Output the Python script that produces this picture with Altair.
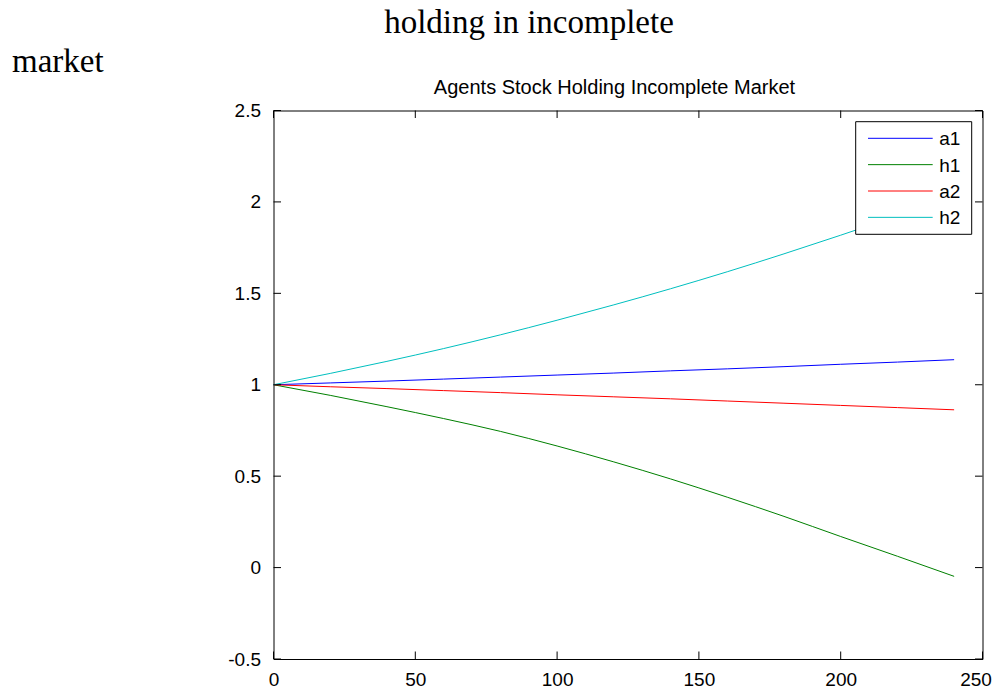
import altair as alt
import pandas as pd

# ---- data ----
x_vals = [0, 20, 40, 60, 80, 100, 120, 140, 160, 180, 200, 220, 240]
a1 = [1.000, 1.010, 1.020, 1.031, 1.042, 1.053, 1.064, 1.076, 1.087, 1.099, 1.112, 1.124, 1.137]
h1 = [1.000, 0.942, 0.880, 0.815, 0.745, 0.665, 0.578, 0.485, 0.385, 0.280, 0.170, 0.062, -0.048]
a2 = [1.000, 0.989, 0.979, 0.968, 0.957, 0.945, 0.934, 0.923, 0.911, 0.899, 0.887, 0.875, 0.863]
h2 = [1.000, 1.062, 1.128, 1.198, 1.273, 1.353, 1.437, 1.525, 1.618, 1.716, 1.818, 1.924, 2.035]

series_names = ["a1", "h1", "a2", "h2"]
series_colors = ["#0000FF", "#008000", "#FF0000", "#00BFBF"]

x_ticks = [0, 50, 100, 150, 200, 250]
y_ticks = [-0.5, 0, 0.5, 1, 1.5, 2, 2.5]

main_title = "Agents Stock Holding Incomplete Market"
caption_line1 = "holding in incomplete"
caption_line2 = "market"

# ---- build tables ----
rows = []
for name, vals in zip(series_names, [a1, h1, a2, h2]):
    for xv, yv in zip(x_vals, vals):
        rows.append({"x": xv, "value": yv, "series": name})
df = pd.DataFrame(rows)

W = 709
H = 548.5
TICK = 7.5
SANS = "Liberation Sans"

xscale = alt.Scale(domain=[0, 250], nice=False, zero=False)
yscale = alt.Scale(domain=[-0.5, 2.5], nice=False, zero=False)

x_axis = alt.Axis(values=x_ticks, ticks=False, tickSize=0, domain=False, grid=False,
                  labelPadding=11, labelFlush=False, labelOverlap=False,
                  labelOffset={"condition": {"test": "datum.value == 250", "value": -7}, "value": 0},
                  labelFont=SANS, labelFontSize=19, labelColor="black", title=None,
                  labelExpr="toString(datum.value)")
y_axis = alt.Axis(values=y_ticks, ticks=False, tickSize=0, domain=False, grid=False,
                  labelPadding=13, labelFlush=False, labelOverlap=False,
                  labelFont=SANS, labelFontSize=19, labelColor="black", title=None,
                  labelExpr="toString(datum.value)")

lines = alt.Chart(df).mark_line(strokeWidth=1, interpolate="monotone").encode(
    x=alt.X("x:Q", scale=xscale, axis=x_axis),
    y=alt.Y("value:Q", scale=yscale, axis=y_axis),
    color=alt.Color("series:N",
                    scale=alt.Scale(domain=series_names, range=series_colors),
                    legend=None),
)

xt = pd.DataFrame({"v": x_ticks})
yt = pd.DataFrame({"v": y_ticks})

tick_bottom = alt.Chart(xt).mark_rule(color="black", strokeWidth=1).encode(
    x=alt.X("v:Q", scale=xscale, axis=x_axis), y=alt.value(H), y2=alt.value(H - TICK))
tick_top = alt.Chart(xt).mark_rule(color="black", strokeWidth=1).encode(
    x=alt.X("v:Q", scale=xscale, axis=x_axis), y=alt.value(0), y2=alt.value(TICK))
tick_left = alt.Chart(yt).mark_rule(color="black", strokeWidth=1).encode(
    y=alt.Y("v:Q", scale=yscale, axis=y_axis), x=alt.value(0), x2=alt.value(TICK))
tick_right = alt.Chart(yt).mark_rule(color="black", strokeWidth=1).encode(
    y=alt.Y("v:Q", scale=yscale, axis=y_axis), x=alt.value(W), x2=alt.value(W - TICK))

# ---- texts (captions and plot title) ----
def text_layer(txt, font, size, align, xpx, ypx):
    return alt.Chart(pd.DataFrame({"t": [txt]})).mark_text(
        font=font, fontSize=size, align=align, baseline="alphabetic", color="black"
    ).encode(text="t:N", x=alt.value(xpx), y=alt.value(ypx))

cap1 = text_layer(caption_line1, "Liberation Serif", 33, "center", 255.5, -77.5)
cap2 = text_layer(caption_line2, "Liberation Serif", 33, "left", -261.5, -38.8)
ttl = text_layer(main_title, SANS, 20, "center", 341, -16.5)

# ---- legend box (MATLAB style, upper right inside axes) ----
LX0, LX1, LY0, LY1 = 582.2, 698.2, 11.2, 123.8
leg_box = alt.Chart(pd.DataFrame({"k": [0]})).mark_rect(
    fill="white", stroke="black", strokeWidth=1
).encode(x=alt.value(LX0), x2=alt.value(LX1), y=alt.value(LY0), y2=alt.value(LY1))

leg_layers = [leg_box]
for i, (name, col) in enumerate(zip(series_names, series_colors)):
    yy = 27.8 + i * 26.35
    rd = pd.DataFrame({"series": [name]})
    leg_layers.append(
        alt.Chart(rd).mark_rule(color=col, strokeWidth=1).encode(
            x=alt.value(594.5), x2=alt.value(659.2), y=alt.value(yy))
    )
    leg_layers.append(
        alt.Chart(rd).mark_text(font=SANS, fontSize=19, align="left",
                                baseline="middle", color="black").encode(
            text="series:N", x=alt.value(665.8), y=alt.value(yy + 1))
    )

chart = alt.layer(
    lines, tick_bottom, tick_top, tick_left, tick_right, *leg_layers, cap1, cap2, ttl
).properties(
    width=W,
    height=H,
    autosize=alt.AutoSizeParams(type="none"),
    padding={"left": 265.5, "top": 102.5, "right": 10, "bottom": 31},
    background="white",
).configure_view(stroke="black", strokeWidth=1)

chart.save("out.html", embed_options={"renderer": "svg", "actions": False})
